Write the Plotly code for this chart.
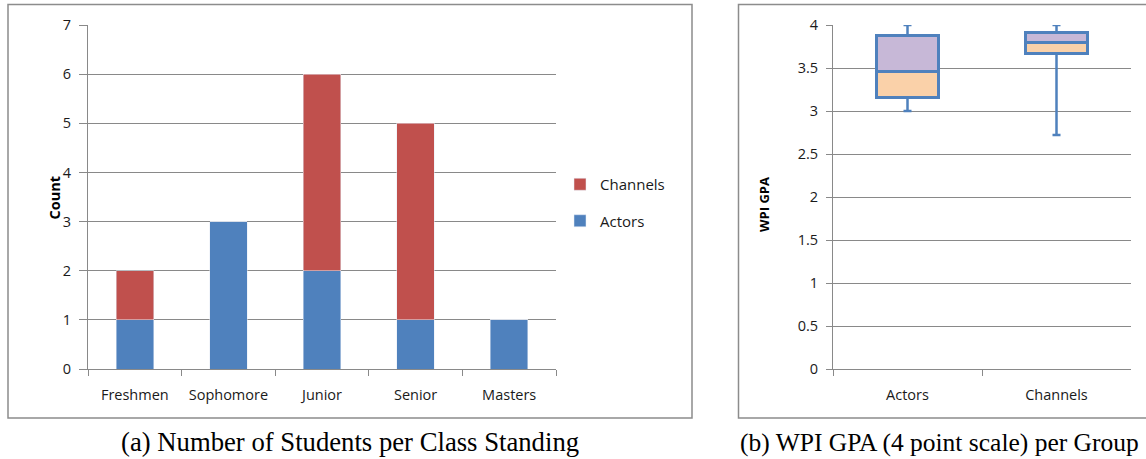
import plotly.graph_objects as go

W, H = 1146, 459

# ---- data: panel (a) ----
standings = ["Freshmen", "Sophomore", "Junior", "Senior", "Masters"]
actors_count = [1, 3, 2, 1, 1]
channels_count = [1, 0, 4, 4, 0]

# ---- data: panel (b) ----
groups = ["Actors", "Channels"]
gpa_min = [3.0, 2.72]
gpa_q1 = [3.16, 3.67]
gpa_median = [3.46, 3.80]
gpa_q3 = [3.88, 3.91]
gpa_max = [4.0, 4.0]

BLUE = "#4F81BD"
RED = "#C0504D"
LAV = "#C7B8D7"
PEACH = "#FAD1A9"
GRID = "#898989"
TXT = "#1a1a1a"
FONT = "Open Sans, Lato, sans-serif"
TICKFONT = dict(family=FONT, size=14.5, color=TXT)


def px(x):
    return x / W


def py(y):
    return 1 - y / H


fig = go.Figure()

# stacked bars
fig.add_trace(go.Bar(x=standings, y=actors_count, name="Actors", marker_color=BLUE,
                     width=0.4, xaxis="x", yaxis="y", legendgroup="a", legendrank=2))
fig.add_trace(go.Bar(x=standings, y=channels_count, name="Channels", marker_color=RED,
                     width=0.4, xaxis="x", yaxis="y", legendgroup="c", legendrank=1))

# box plot built from bars + whiskers
lower_h = [m - q for m, q in zip(gpa_median, gpa_q1)]
upper_h = [q - m for q, m in zip(gpa_q3, gpa_median)]
up_w = [mx - q for mx, q in zip(gpa_max, gpa_q3)]
lo_w = [q - mn for q, mn in zip(gpa_q1, gpa_min)]

fig.add_trace(go.Scatter(x=groups, y=gpa_q3, mode="markers", marker=dict(size=0.1, color=BLUE),
                         error_y=dict(type="data", array=up_w, arrayminus=[0, 0], color=BLUE,
                                      thickness=2.5, width=4),
                         xaxis="x2", yaxis="y2", showlegend=False, hoverinfo="skip"))
fig.add_trace(go.Scatter(x=groups, y=gpa_q1, mode="markers", marker=dict(size=0.1, color=BLUE),
                         error_y=dict(type="data", array=[0, 0], arrayminus=lo_w, color=BLUE,
                                      thickness=2.5, width=4),
                         xaxis="x2", yaxis="y2", showlegend=False, hoverinfo="skip"))
fig.add_trace(go.Bar(x=groups, y=lower_h, base=gpa_q1, marker=dict(color=PEACH, line=dict(color=BLUE, width=3)),
                     width=0.41, xaxis="x2", yaxis="y2", showlegend=False, offsetgroup="g"))
fig.add_trace(go.Bar(x=groups, y=upper_h, base=gpa_median, marker=dict(color=LAV, line=dict(color=BLUE, width=3)),
                     width=0.41, xaxis="x2", yaxis="y2", showlegend=False, offsetgroup="g"))

ydom = [py(369), py(25)]

axis_common = dict(showline=True, linecolor=GRID, linewidth=1, gridcolor=GRID, gridwidth=1,
                   tickfont=TICKFONT, ticks="outside", tickcolor=GRID, zeroline=False,
                   automargin=False)

fig.update_layout(
    width=W, height=H,
    margin=dict(l=0, r=0, t=0, b=0, autoexpand=False),
    paper_bgcolor="white", plot_bgcolor="white",
    barmode="stack",
    showlegend=True,
    legend=dict(x=px(560), y=py(168), xanchor="left", yanchor="top",
                traceorder="grouped", tracegroupgap=14,
                font=dict(family=FONT, size=15, color=TXT),
                bgcolor="rgba(0,0,0,0)"),
    xaxis=dict(domain=[px(88), px(556)], anchor="y", type="category",
               tickson="boundaries", showgrid=False, ticklen=6, ticklabelstandoff=13, **axis_common),
    yaxis=dict(domain=ydom, anchor="x", range=[0, 7], dtick=1, showgrid=True,
               ticklen=8, ticklabelstandoff=5, **axis_common),
    xaxis2=dict(domain=[px(833), px(1131)], anchor="y2", type="category",
                tickson="boundaries", showgrid=False, ticklen=6, ticklabelstandoff=13, **axis_common),
    yaxis2=dict(domain=ydom, anchor="x2", range=[0, 4], dtick=0.5, showgrid=True,
                ticklen=6, ticklabelstandoff=5, **axis_common),
    shapes=[
        dict(type="rect", xref="paper", yref="paper", x0=px(8), x1=px(692), y0=py(418), y1=py(4.5),
             line=dict(color="#8c8c8c", width=1.5), layer="below"),
        dict(type="rect", xref="paper", yref="paper", x0=px(738.5), x1=px(1160), y0=py(418), y1=py(4.5),
             line=dict(color="#8c8c8c", width=1.5), layer="below"),
    ],
    annotations=[
        dict(text="<b>Count</b>", x=px(42), y=py(198), xref="paper", yref="paper", textangle=-90,
             showarrow=False, font=dict(family=FONT, size=14.5, color="#000")),
        dict(text="<b>WPI GPA</b>", x=px(775), y=py(205), xref="paper", yref="paper", textangle=-90,
             showarrow=False, font=dict(family=FONT, size=13, color="#000")),
        dict(text="(a) Number of Students per Class Standing", x=px(350), y=py(442), xref="paper",
             yref="paper", showarrow=False, xanchor="center", yanchor="middle",
             font=dict(family="Liberation Serif, Times New Roman, serif", size=26.7, color="#000")),
        dict(text="(b) WPI GPA (4 point scale) per Group", x=px(738), y=py(442), xref="paper",
             yref="paper", showarrow=False, xanchor="left", yanchor="middle",
             font=dict(family="Liberation Serif, Times New Roman, serif", size=25.5, color="#000")),
    ],
)

fig.write_html("out.html", config={"displayModeBar": False},
               post_script="document.body.style.margin='0';document.body.style.overflow='hidden';")
